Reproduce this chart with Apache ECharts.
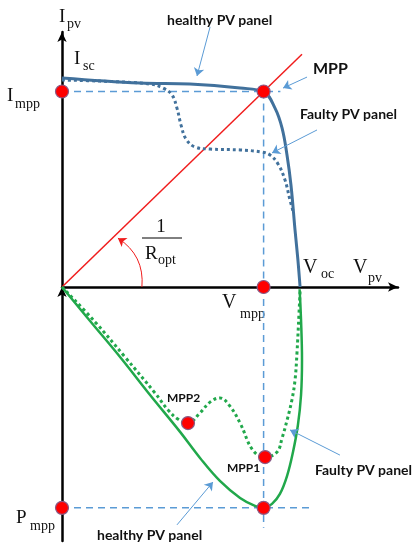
<!DOCTYPE html>
<html>
<head>
<meta charset="utf-8">
<script src="https://cdn.jsdelivr.net/npm/echarts@6/dist/echarts.min.js"></script>
<style>
html, body { margin: 0; padding: 0; background: #fff; }
#chart { width: 420px; height: 550px; }
</style>
</head>
<body>
<div id="chart"></div>
<script>
// normalised units: V (x), I (upper half), P (lower half, drawn downwards)
const Vmpp = 0.84, Impp = 0.92, Pmpp = 1.0;

const ivHealthy = [[0, 0.984], [0.325, 0.960], [0.533, 0.955], [0.742, 0.936], [0.84, 0.918],
    [0.8875, 0.842], [0.917, 0.748], [0.9375, 0.621], [0.954, 0.48], [0.971, 0.268], [0.983, 0.127], [0.992, 0]];
const ivFaulty = [[0, 0.974], [0.158, 0.969], [0.367, 0.955], [0.421, 0.936], [0.458, 0.904], [0.479, 0.842],
    [0.496, 0.762], [0.517, 0.696], [0.554, 0.659], [0.617, 0.649], [0.742, 0.645], [0.833, 0.635],
    [0.867, 0.621], [0.9, 0.579], [0.929, 0.504], [0.95, 0.409], [0.962, 0.36]];
const pvHealthy = [[0, 0], [0.117, 0.154], [0.242, 0.317], [0.367, 0.489], [0.492, 0.656], [0.575, 0.774],
    [0.658, 0.878], [0.742, 0.955], [0.804, 0.991], [0.84, 1.0], [0.875, 0.982], [0.908, 0.937],
    [0.9375, 0.856], [0.9625, 0.747], [0.983, 0.625], [0.996, 0.489], [1.0, 0.33], [0.996, 0.149], [0.99, 0.01]];
const pvFaulty = [[0, 0], [0.1375, 0.158], [0.2625, 0.317], [0.3875, 0.48], [0.442, 0.557], [0.483, 0.598],
    [0.525, 0.616], [0.575, 0.57], [0.617, 0.521], [0.658, 0.502], [0.7, 0.54], [0.742, 0.616],
    [0.796, 0.74], [0.846, 0.77], [0.896, 0.747], [0.917, 0.684], [0.938, 0.602], [0.958, 0.511],
    [0.971, 0.421], [0.979, 0.3], [0.9875, 0.12], [0.992, 0.02]];
const mpp2 = [0.525, 0.616];
const mpp1 = [0.846, 0.77];

// guide extents
const imppGuideEnd = 0.91, vmppGuideEnd = 1.09, pmppGuideEnd = 1.04, loadLineEnd = 1.0;

// angle arc and callout arrows [from, to]
const angleArc = [[0.333, 0], [0.233, 0.23]];
const calloutsIV = [[[0.617, 1.224], [0.5625, 0.993]], [[1.021, 0.988], [0.921, 0.936]], [[1.0625, 0.739], [0.875, 0.631]]];
const calloutsPV = [[[1.158, 0.761], [0.95, 0.647]], [[0.479, 1.077], [0.629, 0.883]]];

const blue = '#41719c', guide = '#5b9bd5', green = '#21a84b', red = '#f01c1c';
const serif = 'Liberation Serif', sans = 'Lato';

function axisLine(sym) {
    return { show: true, onZero: false, symbol: sym, symbolSize: [7, 10],
        lineStyle: { color: '#000', width: 2.5 } };
}
function guideLine(grid, data) {
    return { type: 'line', xAxisIndex: grid, yAxisIndex: grid, data: data, showSymbol: false, silent: true, z: 1,
        lineStyle: { color: guide, width: 1.5, type: [7, 5] } };
}
function curve(grid, data, color, dotted, width) {
    return { type: 'line', xAxisIndex: grid, yAxisIndex: grid, data: data, showSymbol: false, silent: true,
        smooth: 0.4, z: 3, lineStyle: { color: color, width: width, type: dotted ? [3, 3] : 'solid' } };
}
function dots(grid, data) {
    return { type: 'scatter', xAxisIndex: grid, yAxisIndex: grid, data: data, symbolSize: 13, z: 5, silent: true,
        itemStyle: { color: '#ff0000', borderColor: '#8a5a86', borderWidth: 1.2, opacity: 1 } };
}
function arrows(grid, list, color, curveness) {
    return { type: 'lines', coordinateSystem: 'cartesian2d', xAxisIndex: grid, yAxisIndex: grid, clip: false,
        silent: true, z: 4, symbol: ['none', 'arrow'], symbolSize: 8,
        lineStyle: { color: color, width: 1, curveness: curveness || 0, opacity: 1 },
        data: list.map(function (c) { return { coords: c }; }) };
}
function txt(x, y, s, size, opt) {
    opt = opt || {};
    return { type: 'text', x: x, y: y, silent: true,
        style: { text: s, fontSize: size, fontFamily: opt.bold ? sans : serif, fontWeight: opt.bold ? 'bold' : 'normal',
            fill: '#111', textAlign: opt.align || 'left', textVerticalAlign: 'middle' } };
}

const option = {
    animation: false,
    grid: [
        { left: 62, top: 32, width: 336, height: 255 },
        { left: 62, top: 287, width: 336, height: 254 }
    ],
    xAxis: [
        { gridIndex: 0, type: 'value', min: 0, max: 1.4, axisLine: axisLine(['none', 'arrow']),
            axisTick: { show: false }, axisLabel: { show: false }, splitLine: { show: false } },
        { gridIndex: 1, type: 'value', min: 0, max: 1.4, show: false }
    ],
    yAxis: [
        { gridIndex: 0, type: 'value', min: 0, max: 1.2, axisLine: axisLine(['none', 'arrow']),
            axisTick: { show: false }, axisLabel: { show: false }, splitLine: { show: false } },
        { gridIndex: 1, type: 'value', min: 0, max: 1.15, inverse: true, axisLine: axisLine(['none', 'arrow']),
            axisTick: { show: false }, axisLabel: { show: false }, splitLine: { show: false } }
    ],
    series: [
        guideLine(0, [[0, Impp], [imppGuideEnd, Impp]]),
        guideLine(0, [[Vmpp, Impp], [Vmpp, 0]]),
        guideLine(1, [[Vmpp, 0], [Vmpp, vmppGuideEnd]]),
        guideLine(1, [[0, Pmpp], [pmppGuideEnd, Pmpp]]),
        { type: 'line', xAxisIndex: 0, yAxisIndex: 0, showSymbol: false, silent: true, z: 2,
            data: [[0, 0], [loadLineEnd, loadLineEnd * Impp / Vmpp]], lineStyle: { color: red, width: 1.5 } },
        curve(0, ivHealthy, blue, false, 3),
        curve(0, ivFaulty, blue, true, 3),
        curve(1, pvHealthy, green, false, 2.5),
        curve(1, pvFaulty, green, true, 3),
        dots(0, [[0, Impp], [Vmpp, Impp], [Vmpp, 0]]),
        dots(1, [[0, Pmpp], [Vmpp, Pmpp], mpp2, mpp1]),
        arrows(0, [angleArc], red, -0.3),
        arrows(0, calloutsIV, guide),
        arrows(1, calloutsPV, guide)
    ],
    graphic: [
        txt(59, 17, 'I', 19), txt(67, 24, 'pv', 14),
        txt(74, 59, 'I', 19), txt(83, 66, 'sc', 14),
        txt(7, 96, 'I', 19), txt(15, 104, 'mpp', 14),
        txt(222, 303, 'V', 20), txt(240, 314, 'mpp', 14),
        txt(303, 268, 'V', 20), txt(321, 274, 'oc', 14),
        txt(353, 268, 'V', 20), txt(368, 278, 'pv', 14),
        txt(16, 518, 'P', 19), txt(30, 526, 'mpp', 14),
        txt(161, 227, '1', 19, { align: 'center' }),
        { type: 'line', silent: true, shape: { x1: 142, y1: 238, x2: 182, y2: 238 }, style: { stroke: '#000', lineWidth: 1 } },
        txt(145, 254, 'R', 19), txt(158, 260, 'opt', 14),
        txt(167, 20, 'healthy PV panel', 14, { bold: true }),
        txt(313, 69, 'MPP', 16, { bold: true }),
        txt(300, 114, 'Faulty PV panel', 14, { bold: true }),
        txt(167, 398, 'MPP2', 12, { bold: true }),
        txt(227, 468, 'MPP1', 12, { bold: true }),
        txt(315, 470, 'Faulty PV panel', 14, { bold: true }),
        txt(97, 535, 'healthy PV panel', 14, { bold: true })
    ]
};

const chart = echarts.init(document.getElementById('chart'));
chart.setOption(option);
</script>
</body>
</html>
